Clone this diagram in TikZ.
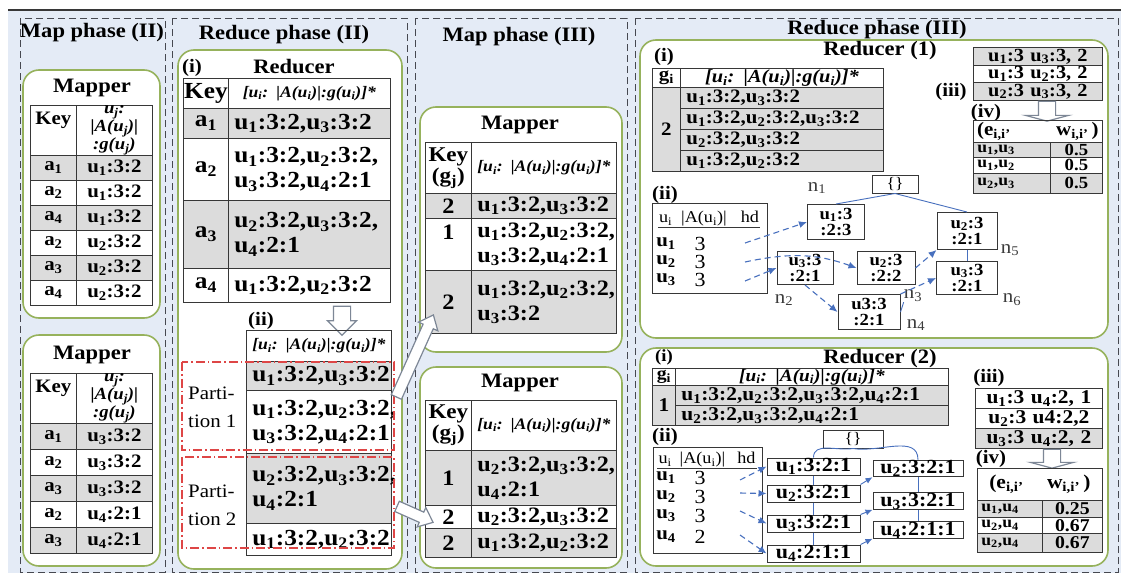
\documentclass[tikz,border=0pt]{standalone}
\usepackage{fontspec}
\setmainfont{Liberation Serif}[FakeStretch=1.1]
\usetikzlibrary{arrows.meta,shapes.arrows,calc}

\definecolor{bgblue}{RGB}{228,235,246}
\definecolor{phasegray}{RGB}{70,72,80}
\definecolor{unitgreen}{RGB}{150,178,92}
\definecolor{cellgray}{RGB}{220,220,220}
\definecolor{tabline}{RGB}{55,55,55}
\definecolor{edgeblue}{RGB}{72,112,190}
\definecolor{partred}{RGB}{222,70,70}
\definecolor{arrowgray}{RGB}{125,135,150}
\definecolor{labelgray}{RGB}{60,60,60}

\newcommand{\ui}[1]{u\textsubscript{#1}}
\newcommand{\ai}[1]{a\textsubscript{#1}}
\newcommand{\fsz}[2]{\fontsize{#1}{#2}\selectfont}
\newcommand{\hdrtext}{\mbox{[u\textsubscript{i}: |A(u\textsubscript{i})|:g(u\textsubscript{i})]*}}
\newcommand{\blkarrow}[3]{%
  \path let \p1=($(#2)-(#1)$), \n1={veclen(\x1,\y1)} in
    (#1) -- (#2) node[blkarrow, midway, sloped, minimum height=\n1, #3] {};}

\tikzset{
  phase/.style={draw=phasegray, line width=1pt, dash pattern=on 7pt off 4pt},
  phasetitle/.style={font=\bfseries\fsz{20.5}{20}, inner sep=0pt},
  unit/.style={draw=unitgreen, line width=1.6pt, fill=white, rounded corners=16pt},
  unittitle/.style={font=\bfseries\fsz{20.5}{20}, inner sep=0pt},
  tag/.style={font=\bfseries\fsz{19}{19}, inner sep=0pt},
  cell/.style={draw=tabline, line width=0.8pt, inner xsep=0pt, inner ysep=0pt,
    anchor=north west, align=center, font=\bfseries\fsz{19}{24}},
  vcell/.style={cell, align=left, inner xsep=6pt},
  hcell/.style={cell, font=\bfseries\itshape\fsz{16}{14}},
  nbox/.style={draw=tabline, line width=1pt, fill=white, inner sep=0pt,
    align=center, font=\bfseries\fsz{17}{16.5}},
  nlabel/.style={font=\fsz{19}{19}, text=labelgray, inner sep=0pt},
  hdline/.style={font=\fsz{16.5}{16}, inner sep=1pt},
  parttext/.style={anchor=west, align=left, inner sep=0pt, font=\fsz{19}{28}},
  partbox/.style={draw=partred, line width=1.3pt, dash pattern=on 9pt off 3pt on 1.5pt off 3pt},
  dasharrow/.style={draw=edgeblue, line width=1.1pt, dash pattern=on 6pt off 4pt,
    -{Latex[length=8pt,width=7pt]}},
  trie/.style={draw=edgeblue, line width=0.9pt},
  triearrow/.style={trie, -{Latex[length=7pt,width=6pt]}},
  blkarrow/.style={single arrow, draw=arrowgray, fill=white, line width=1.2pt,
    inner xsep=0pt, minimum width=0pt, allow upside down},
}

\begin{document}
\begin{tikzpicture}[x=1pt,y=-1pt]
\useasboundingbox (0,0) rectangle (1121,573);
\fill[bgblue] (8,10) rectangle (1121,573);
\draw[tabline, line width=2pt] (8,10) -- (1121,10);

% ---------- Map phase (II)
\draw[phase] (20,18) rectangle (165,572);
\node[phasetitle] (t-map2) at (92,33) {Map phase (II)};
\draw[unit] (23,70) rectangle (160,318);
\draw[unit] (23,335) rectangle (160,566);
\node[unittitle] (map2a) at (92,88) {Mapper};
\node[cell, text width=46pt, minimum height=50pt] (map2a-kh) at (30,105) {Key\\\mbox{}};
\node[hcell, text width=76pt, minimum height=50pt, font=\bfseries\itshape\fsz{17}{14}] (map2a-vh) at (76,105)
  {u\textsubscript{j}:\\|A(u\textsubscript{j})|\\:g(u\textsubscript{j})};
\foreach \k/\v/\f [count=\i from 0] in {\ai1/\ui1:3:2/cellgray, \ai2/\ui1:3:2/white,
    \ai4/\ui1:3:2/cellgray, \ai2/\ui2:3:2/white, \ai3/\ui2:3:2/cellgray, \ai4/\ui2:3:2/white}{
  \node[cell, fill=\f, text width=46pt, minimum height=25pt] (map2a-k\i) at (30,{155+25*\i}) {\k};
  \node[cell, fill=\f, text width=76pt, minimum height=25pt] (map2a-v\i) at (76,{155+25*\i}) {\v};
}
\node[unittitle] (map2b) at (92,355) {Mapper};
\node[cell, text width=46pt, minimum height=50pt] (map2b-kh) at (30,373) {Key\\\mbox{}};
\node[hcell, text width=76pt, minimum height=50pt, font=\bfseries\itshape\fsz{17}{14}] (map2b-vh) at (76,373)
  {u\textsubscript{j}:\\|A(u\textsubscript{j})|\\:g(u\textsubscript{j})};
\foreach \k/\v/\f [count=\i from 0] in {\ai1/\ui3:3:2/cellgray, \ai2/\ui3:3:2/white,
    \ai3/\ui3:3:2/cellgray, \ai2/\ui4:2:1/white, \ai3/\ui4:2:1/cellgray}{
  \node[cell, fill=\f, text width=46pt, minimum height=26pt] (map2b-k\i) at (30,{423+26*\i}) {\k};
  \node[cell, fill=\f, text width=76pt, minimum height=26pt] (map2b-v\i) at (76,{423+26*\i}) {\v};
}

% ---------- Reduce phase (II)
\draw[phase] (172,18) rectangle (407,572);
\node[phasetitle] (t-red2) at (284,35) {Reduce phase (II)};
\draw[unit] (178,50) rectangle (402,569);
\node[tag] (red2-i) at (192,68) {(i)};
\node[unittitle] (red2) at (294,67) {Reducer};
\begin{scope}[cell/.append style={font=\bfseries\fsz{23}{25}}]
\node[cell, text width=45pt, minimum height=30pt] (red2-kh) at (183,78) {Key};
\node[hcell, text width=162pt, minimum height=30pt] (red2-vh) at (228,78) {\hdrtext};
\foreach \yy/\hh/\f/\k/\v [count=\i from 0] in {108/30/cellgray/\ai1/{\ui1:3:2,\ui3:3:2},
    138/62/white/\ai2/{\ui1:3:2,\ui2:3:2,\\\ui3:3:2,\ui4:2:1},
    200/68/cellgray/\ai3/{\ui2:3:2,\ui3:3:2,\\\ui4:2:1},
    268/34/white/\ai4/{\ui1:3:2,\ui2:3:2}}{
  \node[cell, fill=\f, text width=45pt, minimum height=\hh pt] (red2-k\i) at (183,\yy) {\k};
  \node[vcell, fill=\f, text width=150pt, minimum height=\hh pt] (red2-v\i) at (228,\yy) {\v};
}
\coordinate (red2-a1) at (342,302);
\coordinate (red2-a2) at (342,331);
\blkarrow{red2-a1}{red2-a2}{inner ysep=8pt, single arrow head extend=6pt}
\node[tag] (red2-ii) at (261,321) {(ii)};
\node[hcell, text width=145pt, minimum height=31pt] (red2-ph) at (246,330) {\hdrtext};
\foreach \yy/\hh/\f/\v [count=\i from 0] in {361/29/cellgray/{\ui1:3:2,\ui3:3:2},
    390/63/white/{\ui1:3:2,\ui2:3:2,\\\ui3:3:2,\ui4:2:1},
    453/70/cellgray/{\ui2:3:2,\ui3:3:2,\\\ui4:2:1},
    523/32/white/{\ui1:3:2,\ui2:3:2}}{
  \node[vcell, fill=\f, text width=133pt, minimum height=\hh pt] (red2-p\i) at (246,\yy) {\v};
}
\end{scope}
\draw[partbox] (182,362) rectangle (394,450);
\node[parttext] (part1) at (188,407) {Parti-\\tion 1};
\draw[partbox] (182,457) rectangle (394,548);
\node[parttext] (part2) at (188,505) {Parti-\\tion 2};

% ---------- Map phase (III)
\draw[phase] (415,18) rectangle (627,572);
\node[phasetitle] (t-map3) at (519,37) {Map phase (III)};
\draw[unit] (420,107) rectangle (622,352);
\draw[unit] (420,367) rectangle (622,568);
\begin{scope}[cell/.append style={font=\bfseries\fsz{22}{25}}]
\node[unittitle] (map3a) at (520,125) {Mapper};
\node[cell, text width=46pt, minimum height=51pt, font=\bfseries\fsz{21}{21}] (map3a-kh) at (425,142) {Key\\(g\textsubscript{j})};
\node[hcell, text width=145pt, minimum height=51pt] (map3a-vh) at (471,142) {\hdrtext};
\foreach \yy/\hh/\f/\k/\v [count=\i from 0] in {193/25/cellgray/2/{\ui1:3:2,\ui3:3:2},
    218/52/white/{1\\\mbox{}}/{\ui1:3:2,\ui2:3:2,\\\ui3:3:2,\ui4:2:1},
    270/63/cellgray/2/{\ui1:3:2,\ui2:3:2,\\\ui3:3:2}}{
  \node[cell, fill=\f, text width=46pt, minimum height=\hh pt] (map3a-k\i) at (425,\yy) {\k};
  \node[vcell, fill=\f, text width=133pt, minimum height=\hh pt] (map3a-v\i) at (471,\yy) {\v};
}
\node[unittitle] (map3b) at (520,383) {Mapper};
\node[cell, text width=46pt, minimum height=50pt, font=\bfseries\fsz{21}{21}] (map3b-kh) at (425,400) {Key\\(g\textsubscript{j})};
\node[hcell, text width=145pt, minimum height=50pt] (map3b-vh) at (471,400) {\hdrtext};
\foreach \yy/\hh/\f/\k/\v [count=\i from 0] in {450/55/cellgray/1/{\ui2:3:2,\ui3:3:2,\\\ui4:2:1},
    505/23/white/2/{\ui2:3:2,\ui3:3:2},
    528/29/cellgray/2/{\ui1:3:2,\ui2:3:2}}{
  \node[cell, fill=\f, text width=46pt, minimum height=\hh pt] (map3b-k\i) at (425,\yy) {\k};
  \node[vcell, fill=\f, text width=133pt, minimum height=\hh pt] (map3b-v\i) at (471,\yy) {\v};
}
\end{scope}
\coordinate (part1-out) at (395,400);
\coordinate (map3a-in) at (432,318);
\blkarrow{part1-out}{map3a-in}{inner ysep=5pt, single arrow head extend=5pt, single arrow tip angle=80}
\coordinate (part2-out) at (394,505);
\coordinate (map3b-in) at (430,521);
\blkarrow{part2-out}{map3b-in}{inner ysep=5pt, single arrow head extend=5pt, single arrow tip angle=80}

% ---------- Reduce phase (III)
\draw[phase] (635,18) rectangle (1118,572);
\node[phasetitle] (t-red3) at (877,30) {Reduce phase (III)};
\draw[unit] (640,40) rectangle (1108,338);
\draw[unit] (640,348) rectangle (1108,566);

% Reducer (1)
\node[tag] (r1-i) at (664,57) {(i)};
\node[unittitle] (r1) at (880,51) {Reducer (1)};
\begin{scope}[cell/.append style={font=\bfseries\fsz{19}{19}}]
\node[cell, text width=28pt, minimum height=19pt] (r1-kh) at (652,68) {g\textsubscript{i}};
\node[cell, text width=203pt, minimum height=19pt, font=\bfseries\itshape\fsz{18.5}{18}] (r1-vh) at (680,68) {\hdrtext};
\node[cell, fill=cellgray, text width=28pt, minimum height=84pt] (r1-k0) at (652,87) {2};
\foreach \v [count=\i from 0] in {{\ui1:3:2,\ui3:3:2},{\ui1:3:2,\ui2:3:2,\ui3:3:2},
    {\ui2:3:2,\ui3:3:2},{\ui1:3:2,\ui2:3:2}}
  \node[vcell, fill=cellgray, text width=191pt, minimum height=21pt] (r1-v\i) at (680,{87+21*\i}) {\v};
\node[tag] (r1-iii) at (951,92) {(iii)};
\foreach \yy/\hh/\f/\v [count=\i from 0] in {47/18/cellgray/{\ui1:3 \ui3:3, 2},
    65/17/white/{\ui1:3 \ui2:3, 2}, 82/18/cellgray/{\ui2:3 \ui3:3, 2}}
  \node[cell, fill=\f, text width=129pt, minimum height=\hh pt, font=\bfseries\fsz{18.5}{18}] (r1-c\i) at (973,\yy) {\v};
\node[tag] (r1-iv) at (986,113) {(iv)};
\coordinate (r1-d1) at (1047,100);
\coordinate (r1-d2) at (1047,120);
\blkarrow{r1-d1}{r1-d2}{inner ysep=8pt, single arrow head extend=13pt, single arrow tip angle=150}
\node[cell, text width=129pt, minimum height=22pt] (r1-eh) at (973,120)
  {\mbox{(e\textsubscript{i,i'}\hspace{2.4em}w\textsubscript{i,i'}\,)}};
\foreach \yy/\hh/\f/\e [count=\i from 0] in {142/15/cellgray/{\ui1,\ui3},
    157/16/white/{\ui1,\ui2}, 173/20/cellgray/{\ui2,\ui3}}{
  \node[vcell, fill=\f, text width=69pt, inner xsep=4pt, minimum height=\hh pt, font=\bfseries\fsz{16}{16}] (r1-e\i) at (973,\yy) {\e};
  \node[cell, fill=\f, text width=52pt, minimum height=\hh pt, font=\bfseries\fsz{17}{17}] (r1-w\i) at (1050,\yy) {0.5};
}
\end{scope}
\node[tag] (r1-ii) at (665,195) {(ii)};
\node[cell, fill=white, text width=115pt, minimum height=90pt] (r1-tab) at (652,203) {};
\node[hdline] (r1-th) at (709,219)
  {u\textsubscript{i}\hspace{9pt}|A(u\textsubscript{i})|\hspace{14pt}hd};
\draw[tabline, line width=0.7pt] (r1-th.south west) -- (r1-th.south east);
\foreach \u/\a [count=\i from 0] in {1/3,2/3,3/3}{
  \node[font=\bfseries\fsz{19}{19}, inner sep=0pt] (r1-u\i) at (666,{244+18*\i}) {\ui\u};
  \node[font=\fsz{20}{20}, inner sep=0pt] (r1-a\i) at (700,{244+18*\i}) {\a};
  \coordinate (r1-o\i) at (745,{243+19*\i});
}
\node[nbox, text width=57pt, minimum height=35pt] (n1) at (836,222) {\ui1:3\\:2:3};
\node[nbox, text width=56pt, minimum height=33pt] (n2) at (805,268) {\ui3:3\\:2:1};
\node[nbox, text width=58pt, minimum height=33pt] (n3) at (886,268) {\ui2:3\\:2:2};
\node[nbox, text width=62pt, minimum height=35pt] (n4) at (869,312) {u3:3\\:2:1};
\node[nbox, text width=60pt, minimum height=37pt] (n5) at (967,231) {\ui2:3\\:2:1};
\node[nbox, text width=61pt, minimum height=33pt] (n6) at (967,278) {\ui3:3\\:2:1};
\node[nbox, text width=46pt, minimum height=18pt, font=\fsz{16}{16}] (r1-root) at (895,184) {\{\}};
\foreach \n/\x/\y in {1/817/188, 2/784/300, 3/913/296, 4/916/325, 5/1010/250, 6/1012/300}
  \node[nlabel] (lab-n\n) at (\x,\y) {n\textsubscript{\n}};
\draw[trie] (r1-root.south) -- (n1.north);
\draw[trie] (r1-root.south) -- (n5.north);
\draw[trie] (n5.south) -- (n6.north);
\draw[trie] (n4.east) -- (lab-n3.south west);
\draw[dasharrow] (r1-o0) -- (n1.west);
\draw[dasharrow] (r1-o1) to[out=12, in=160] (n3.west);
\draw[dasharrow] (r1-o2) -- (n2.west);
\draw[dasharrow] (n2.south) -- (n4.west);
\draw[dasharrow] (n3.east) -- (n5.south west);
\draw[dasharrow] (n4.north east) -- (n6.west);

% Reducer (2)
\node[tag, font=\bfseries\fsz{17}{17}] (r2-i) at (664,357) {(i)};
\node[unittitle] (r2) at (880,359) {Reducer (2)};
\begin{scope}[cell/.append style={font=\bfseries\fsz{19.5}{19}}]
\node[cell, text width=23pt, minimum height=17pt, font=\bfseries\fsz{18}{17}] (r2-kh) at (652,368) {g\textsubscript{i}};
\node[cell, text width=273pt, minimum height=17pt, font=\bfseries\itshape\fsz{17.5}{17}] (r2-vh) at (675,368) {\hdrtext};
\node[cell, fill=cellgray, text width=23pt, minimum height=40pt] (r2-k0) at (652,385) {1};
\foreach \v [count=\i from 0] in {{\ui1:3:2,\ui2:3:2,\ui3:3:2,\ui4:2:1},{\ui2:3:2,\ui3:3:2,\ui4:2:1}}
  \node[vcell, fill=cellgray, text width=261pt, minimum height=20pt] (r2-v\i) at (675,{385+20*\i}) {\v};
\node[tag] (r2-iii) at (989,378) {(iii)};
\foreach \yy/\f/\v [count=\i from 0] in {388/white/{\ui1:3 \ui4:2, 1},
    408/white/{\ui2:3 u4:2,2}, 428/cellgray/{\ui3:3 \ui4:2, 2}}
  \node[cell, fill=\f, text width=127pt, minimum height=20pt] (r2-c\i) at (975,\yy) {\v};
\node[tag] (r2-iv) at (991,459) {(iv)};
\coordinate (r2-d1) at (1052,448);
\coordinate (r2-d2) at (1052,467);
\blkarrow{r2-d1}{r2-d2}{inner ysep=8pt, single arrow head extend=13pt, single arrow tip angle=150}
\node[cell, text width=125pt, minimum height=32pt] (r2-eh) at (977,468)
  {\mbox{(e\textsubscript{i,i'}\hspace{1.2em}w\textsubscript{i,i'}\,)}};
\foreach \yy/\hh/\f/\e/\w [count=\i from 0] in {500/17/cellgray/{\ui1,\ui4}/0.25,
    517/16/white/{\ui2,\ui4}/0.67, 533/19/cellgray/{\ui2,\ui4}/0.67}{
  \node[vcell, fill=\f, text width=57pt, inner xsep=4pt, minimum height=\hh pt, font=\bfseries\fsz{16}{16}] (r2-e\i) at (977,\yy) {\e};
  \node[cell, fill=\f, text width=60pt, minimum height=\hh pt, font=\bfseries\fsz{18}{18}] (r2-w\i) at (1042,\yy) {\w};
}
\end{scope}
\node[tag] (r2-ii) at (665,437) {(ii)};
\node[cell, fill=white, text width=109pt, minimum height=106pt] (r2-tab) at (653,447) {};
\node[hdline] (r2-th) at (707,460)
  {u\textsubscript{i}\hspace{8pt}|A(u\textsubscript{i})|\hspace{12pt}hd};
\draw[tabline, line width=0.7pt] (r2-th.south west) -- (r2-th.south east);
\foreach \u/\a/\y [count=\i from 0] in {1/3/478, 2/3/497, 3/3/516, 4/2/537}{
  \node[font=\bfseries\fsz{19}{19}, inner sep=0pt] (r2-u\i) at (666,\y) {\ui\u};
  \node[font=\fsz{20}{20}, inner sep=0pt] (r2-a\i) at (700,\y) {\a};
}
\foreach \y [count=\i from 0] in {480,493,511,535}
  \coordinate (r2-o\i) at (740,\y);
\node[nbox, text width=60pt, minimum height=18pt, font=\fsz{16}{16}] (r2-root) at (853,439) {\{\}};
\foreach \t/\y [count=\i] in {\ui1:3:2:1/466.5, \ui2:3:2:1/493.5, \ui3:3:2:1/523.5, \ui4:2:1:1/553.5}
  \node[nbox, text width=93pt, minimum height=17pt, font=\bfseries\fsz{20}{17}] (L\i) at (813.5,\y) {\t};
\foreach \t/\y [count=\i] in {\ui2:3:2:1/468.5, \ui3:3:2:1/501, \ui4:2:1:1/530}
  \node[nbox, text width=90pt, minimum height=16pt, font=\bfseries\fsz{20}{17}] (R\i) at (918,\y) {\t};
\draw[trie] (r2-root.south) to[out=190, in=90] (L1.north);
\draw[trie] (r2-root.south) to[out=-10, in=90] (R1.north);
\foreach \a/\b in {1/2,2/3,3/4}
  \draw[trie] (L\a.south) -- (L\b.north);
\foreach \a/\b in {1/2,2/3}
  \draw[trie] (R\a.south) -- (R\b.north);
\foreach \a/\b in {2/1,3/2,4/3}
  \draw[triearrow] (L\a.north east) -- (R\b.south west);
\foreach \i in {0,1,2,3}{
  \pgfmathtruncatemacro{\j}{\i+1}
  \draw[dasharrow] (r2-o\i) -- (L\j.west);
}
\end{tikzpicture}
\end{document}
